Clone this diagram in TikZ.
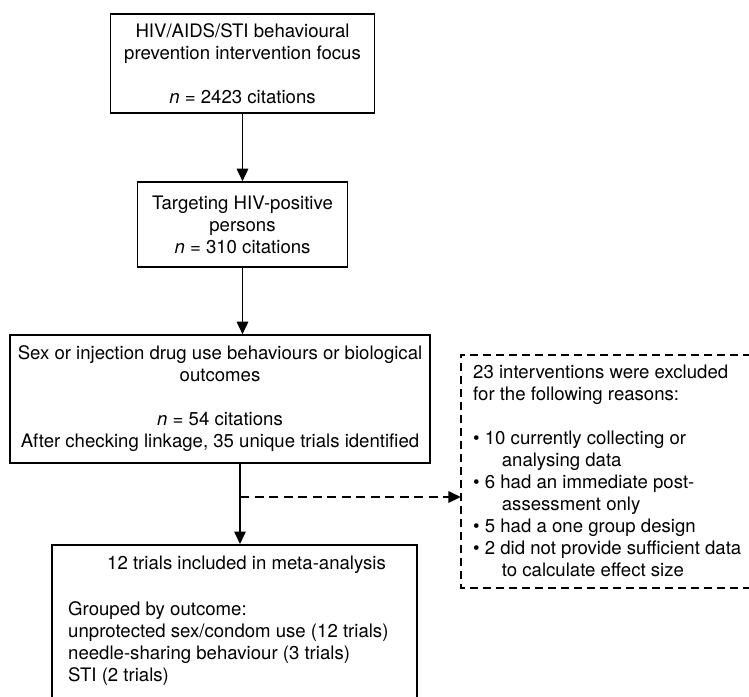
\documentclass[tikz,border=0pt]{standalone}
\usepackage{fontspec}
\setmainfont{TeX Gyre Heros}
\usetikzlibrary{arrows.meta}
\begin{document}
\begin{tikzpicture}[x=1pt,y=-1pt,
  every node/.style={font=\fontsize{18.6}{22}\selectfont},
  box/.style={draw,line width=1.6pt,inner sep=0pt,align=center},
  txt/.style={inner sep=0pt,align=left},
  arr/.style={line width=1.6pt,-{Triangle[length=12.5pt,width=11.5pt]}},
  darr/.style={arr,dash pattern=on 9pt off 5.5pt},
  dline/.style={line width=1.6pt,dash pattern=on 8pt off 5pt},
]
\useasboundingbox (0,0) rectangle (749,696);
\node[box,minimum width=264pt,minimum height=99pt] (n1) at (242.5,63.5)
  {HIV/AIDS/STI behavioural\\prevention intervention focus\\[22pt]\textit{n} = 2423 citations};
\node[box,minimum width=210pt,minimum height=85pt] (n2) at (242.5,224.5)
  {Targeting HIV-positive\\persons\\\textit{n} = 310 citations};
\node[box,minimum width=420pt,minimum height=128pt] (n3) at (220,399)
  {Sex or injection drug use behaviours or biological\\outcomes\\[22pt]\textit{n} = 54 citations\\After checking linkage, 35 unique trials identified};
\node[box,minimum width=365pt,minimum height=200pt,anchor=north] (n4) at (234.5,544) {};
\node[inner sep=0pt,anchor=base west] (n4t) at (107,569.7) {12 trials included in meta-analysis};
\node[txt,anchor=north west] (n4l) at (68,601)
  {Grouped by outcome:\\unprotected sex/condom use (12 trials)\\needle-sharing behaviour (3 trials)\\STI (2 trials)};
\node[inner sep=0pt,minimum width=329pt,minimum height=233pt] (excl) at (625.5,471.5) {};
\draw[dline] (excl.north east) -- (excl.north west) -- (excl.south west) -- (excl.south east);
\node[txt,anchor=north west] (exclt) at (473,365)
  {23 interventions were excluded\\for the following reasons:\\[22pt]
   \textbullet\ 10 currently collecting or\\\hspace*{28.7pt}analysing data\\
   \textbullet\ 6 had an immediate post-\\\hspace*{28.7pt}assessment only\\
   \textbullet\ 5 had a one group design\\
   \textbullet\ 2 did not provide sufficient data\\\hspace*{28.7pt}to calculate effect size};
\draw[arr] (n1.south) -- (n1.south |- n2.north);
\draw[arr] (n2.south) -- (n2.south |- n3.north);
\coordinate (jt) at (240,497);
\draw[arr] (jt |- n3.south) -- (jt |- n4.north);
\draw[darr] (jt) -- (jt -| excl.west);
\end{tikzpicture}
\end{document}
